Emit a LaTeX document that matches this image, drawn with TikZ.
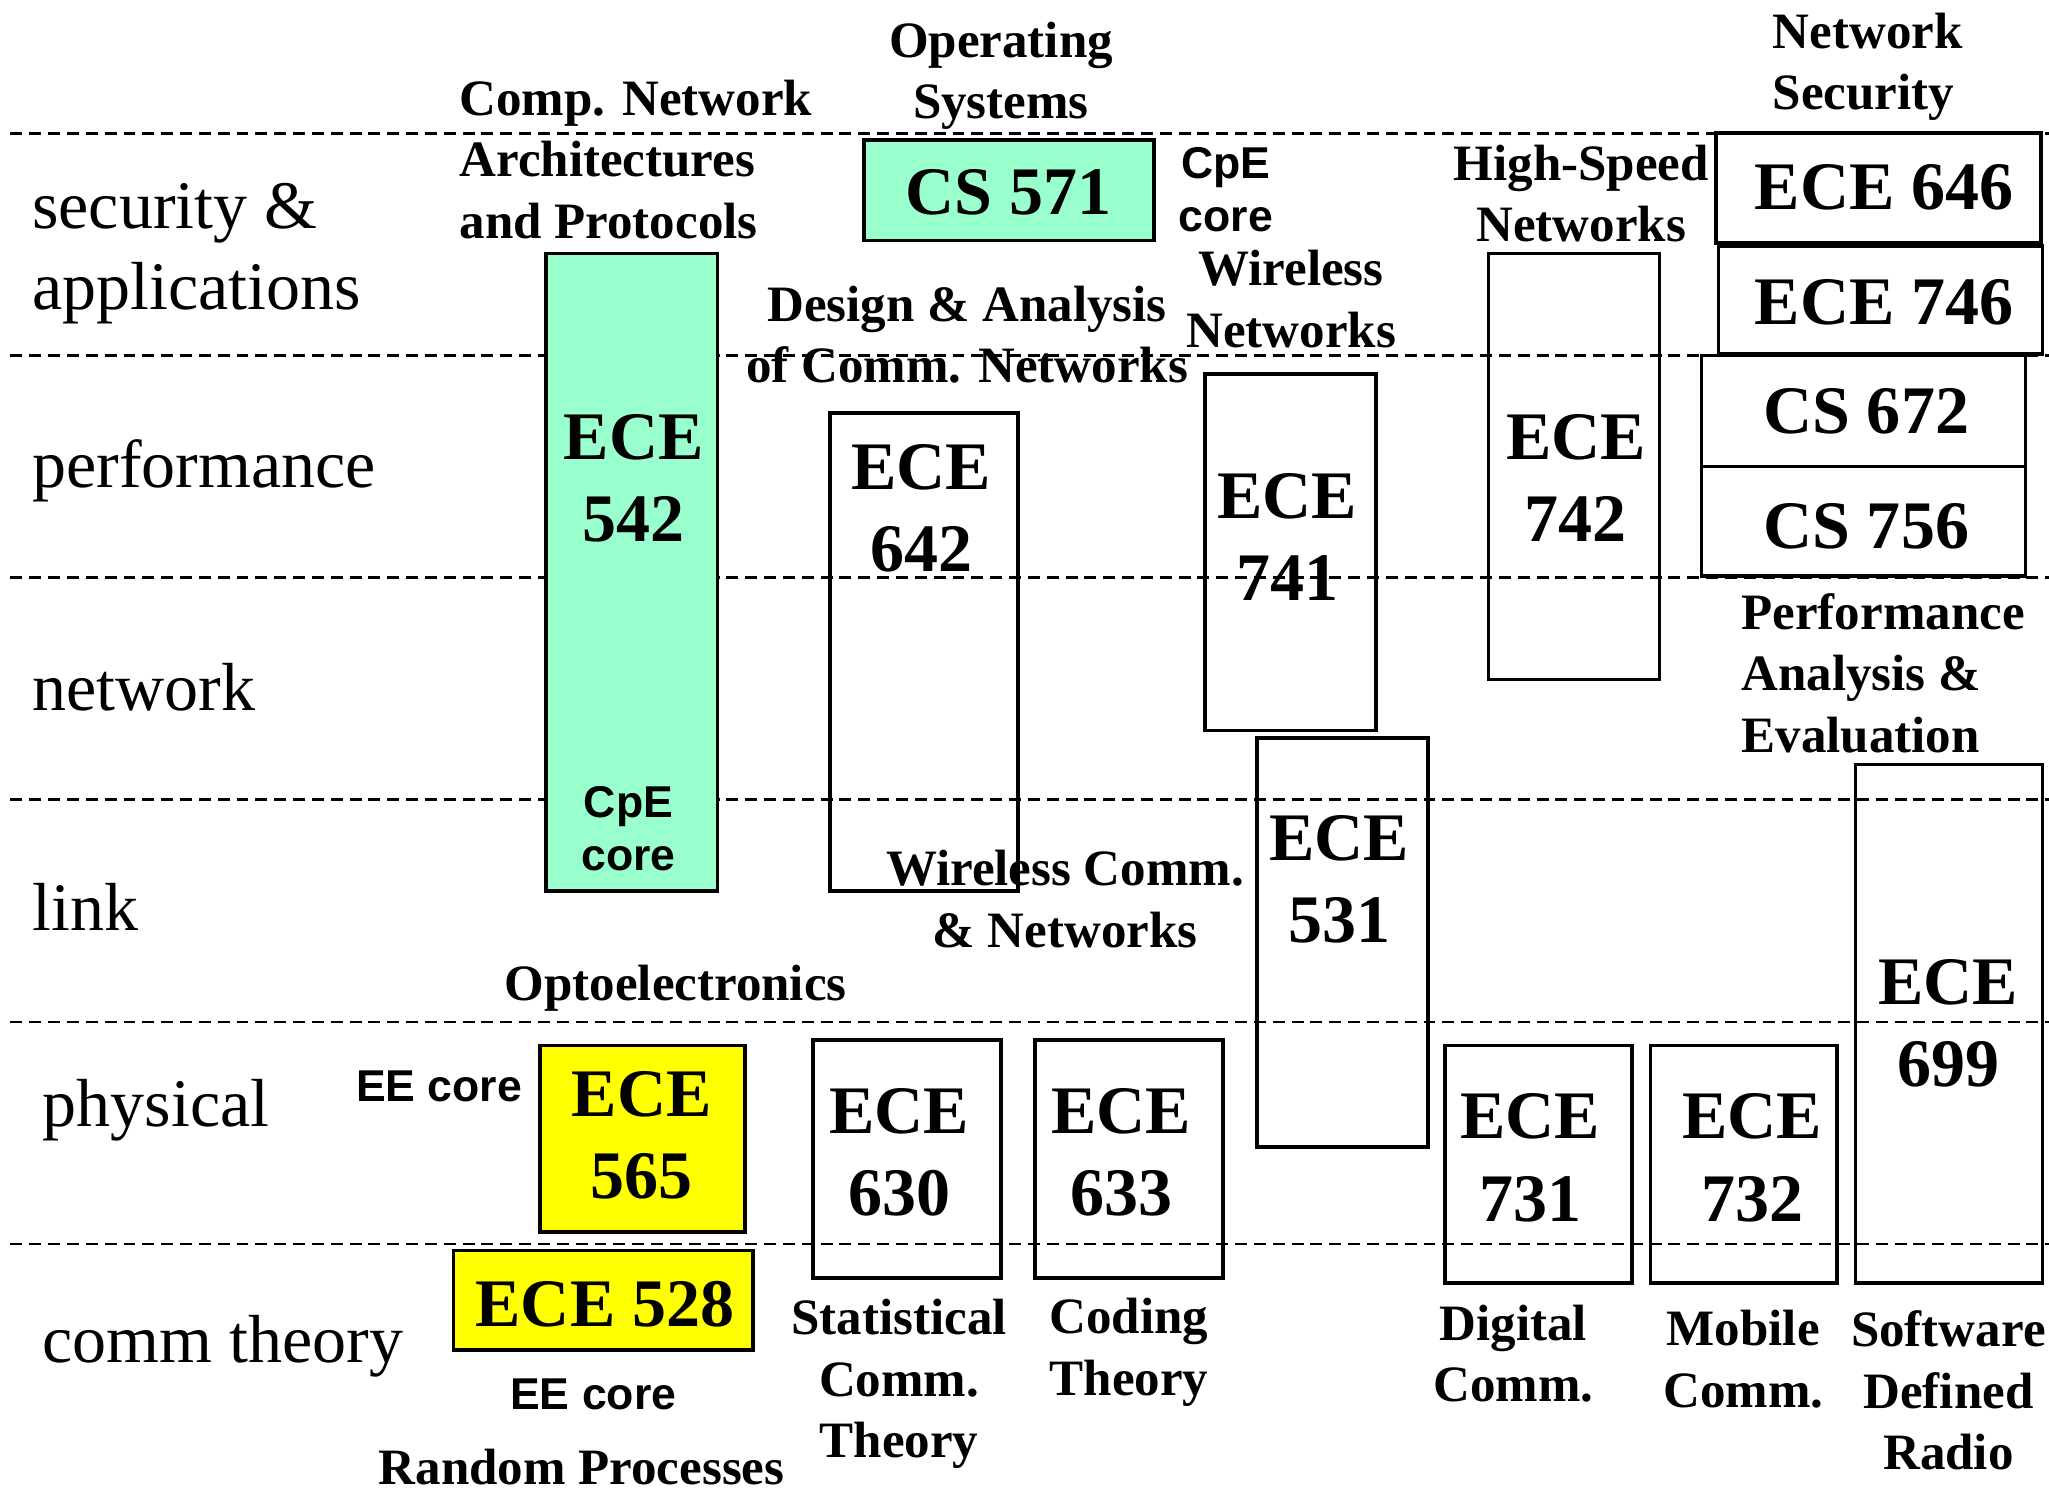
\documentclass[tikz,border=0pt]{standalone}
\usepackage{fontspec}
\setmainfont{Liberation Serif}
\setsansfont{Liberation Sans}
\definecolor{cpegreen}{HTML}{99FFCC}
\definecolor{eeyellow}{HTML}{FFFF00}
\tikzset{
  layer/.style={dashed, line width=0.6pt, dash pattern=on 2.6pt off 1.5pt},
  course/.style={draw, line width=0.8pt},
  coursetext/.style={inner sep=0pt, align=center, font=\bfseries\fontsize{14.8}{17.9}\selectfont},
  topic/.style={inner sep=0pt, align=center, font=\bfseries\fontsize{11.1}{13.4}\selectfont},
  corenote/.style={inner sep=0pt, align=center, font=\sffamily\bfseries\fontsize{9.7}{11.4}\selectfont},
  rowlabel/.style={inner sep=0pt, anchor=west, align=left, font=\fontsize{14.8}{17.6}\selectfont}
}
\begin{document}
\begin{tikzpicture}[x=0.01cm, y=-0.01cm, line join=miter]
			\useasboundingbox (0,0) rectangle (1568,1140);
			
			% layer boundaries
			\foreach \yy in {102,272,442,612,782,952}
				\draw[layer] (8,\yy) -- (1568,\yy);
			
			% layer names
			\node[rowlabel] (lapp) at (24,194) {security \&\\applications};
			\node[rowlabel] (lperf) at (24,360) {performance};
			\node[rowlabel] (lnet) at (24,526) {network};
			\node[rowlabel] (llink) at (24,694) {link};
			\node[rowlabel] (lphy) at (32,850) {physical};
			\node[rowlabel] (lcomm) at (32,1030) {comm theory};
			
			% core courses (filled)
			\draw[course, fill=cpegreen] (661,107) rectangle (883,184);
			\draw[course, fill=cpegreen] (418,194) rectangle (549,682);
			\draw[course, fill=eeyellow] (413,800) rectangle (570,943);
			\draw[course, fill=eeyellow] (347,957) rectangle (576,1033);
			
			% other courses
			\draw[course] (635,316) rectangle (779,682);
			\draw[course] (922,286) rectangle (1053,559);
			\draw[course] (1139,194) rectangle (1270,520);
			\draw[course] (1313,102) rectangle (1562,186);
			\draw[course] (1315,188) rectangle (1563,271);
			\draw[course] (1302,272) rectangle (1550,357);
			\draw[course] (1302,357) rectangle (1550,441);
			\draw[course] (962,565) rectangle (1093,878);
			\draw[course] (1420,585) rectangle (1563,982);
			\draw[course] (622,796) rectangle (766,978);
			\draw[course] (792,796) rectangle (936,978);
			\draw[course] (1106,800) rectangle (1249,982);
			\draw[course] (1263,800) rectangle (1406,982);
			
			% course numbers
			\node[coursetext] (cs571) at (772,147) {CS 571};
			\node[coursetext] (ece542) at (485,366) {ECE\\542};
			\node[coursetext] (ece642) at (705,389) {ECE\\642};
			\node[coursetext] (ece741) at (985,411) {ECE\\741};
			\node[coursetext] (ece742) at (1206,366) {ECE\\742};
			\node[coursetext] (ece646) at (1442,143) {ECE 646};
			\node[coursetext] (ece746) at (1442,231) {ECE 746};
			\node[coursetext] (cs672) at (1428,315) {CS 672};
			\node[coursetext] (cs756) at (1428,403) {CS 756};
			\node[coursetext] (ece531) at (1025,673) {ECE\\531};
			\node[coursetext] (ece699) at (1491,783) {ECE\\699};
			\node[coursetext] (ece565) at (491,869) {ECE\\565};
			\node[coursetext] (ece528) at (463,998) {ECE 528};
			\node[coursetext] (ece630) at (688,882) {ECE\\630};
			\node[coursetext] (ece633) at (858,882) {ECE\\633};
			\node[coursetext] (ece731) at (1171,886) {ECE\\731};
			\node[coursetext] (ece732) at (1341,886) {ECE\\732};
			
			% core notes
			\node[corenote] (cpecore1) at (481,634) {CpE\\core};
			\node[corenote] (cpecore2) at (938,145) {CpE\\core};
			\node[corenote] (eecore1) at (336,831) {EE core};
			\node[corenote] (eecore2) at (454,1067) {EE core};
			
			% course titles
			\node[topic] (tos) at (766,58) {Operating\\Systems};
			\node[topic, anchor=west, align=left] (tcomp) at (351,122) {Comp. Network\\Architectures\\and Protocols};
			\node[topic] (tdesign) at (740,256) {Design \& Analysis\\of Comm. Networks};
			\node[topic] (twlan) at (988,229) {Wireless\\Networks};
			\node[topic] (thigh) at (1210,148) {High-Speed\\Networks};
			\node[topic, anchor=west, align=left] (tsec) at (1356,51) {Network\\Security};
			\node[topic, anchor=west, align=left] (tperf) at (1332,515) {Performance\\Analysis \&\\Evaluation};
			\node[topic] (twcomm) at (815,688) {Wireless Comm.\\\& Networks};
			\node[topic] (topto) at (517,756) {Optoelectronics};
			\node[topic] (trand) at (445,1123) {Random Processes};
			\node[topic] (tstat) at (688,1059) {Statistical\\Comm.\\Theory};
			\node[topic] (tcode) at (864,1035) {Coding\\Theory};
			\node[topic] (tdig) at (1158,1036) {Digital\\Comm.};
			\node[topic] (tmob) at (1334,1040) {Mobile\\Comm.};
			\node[topic] (tsdr) at (1491,1064) {Software\\Defined\\Radio};
			
		\end{tikzpicture}
\end{document}
